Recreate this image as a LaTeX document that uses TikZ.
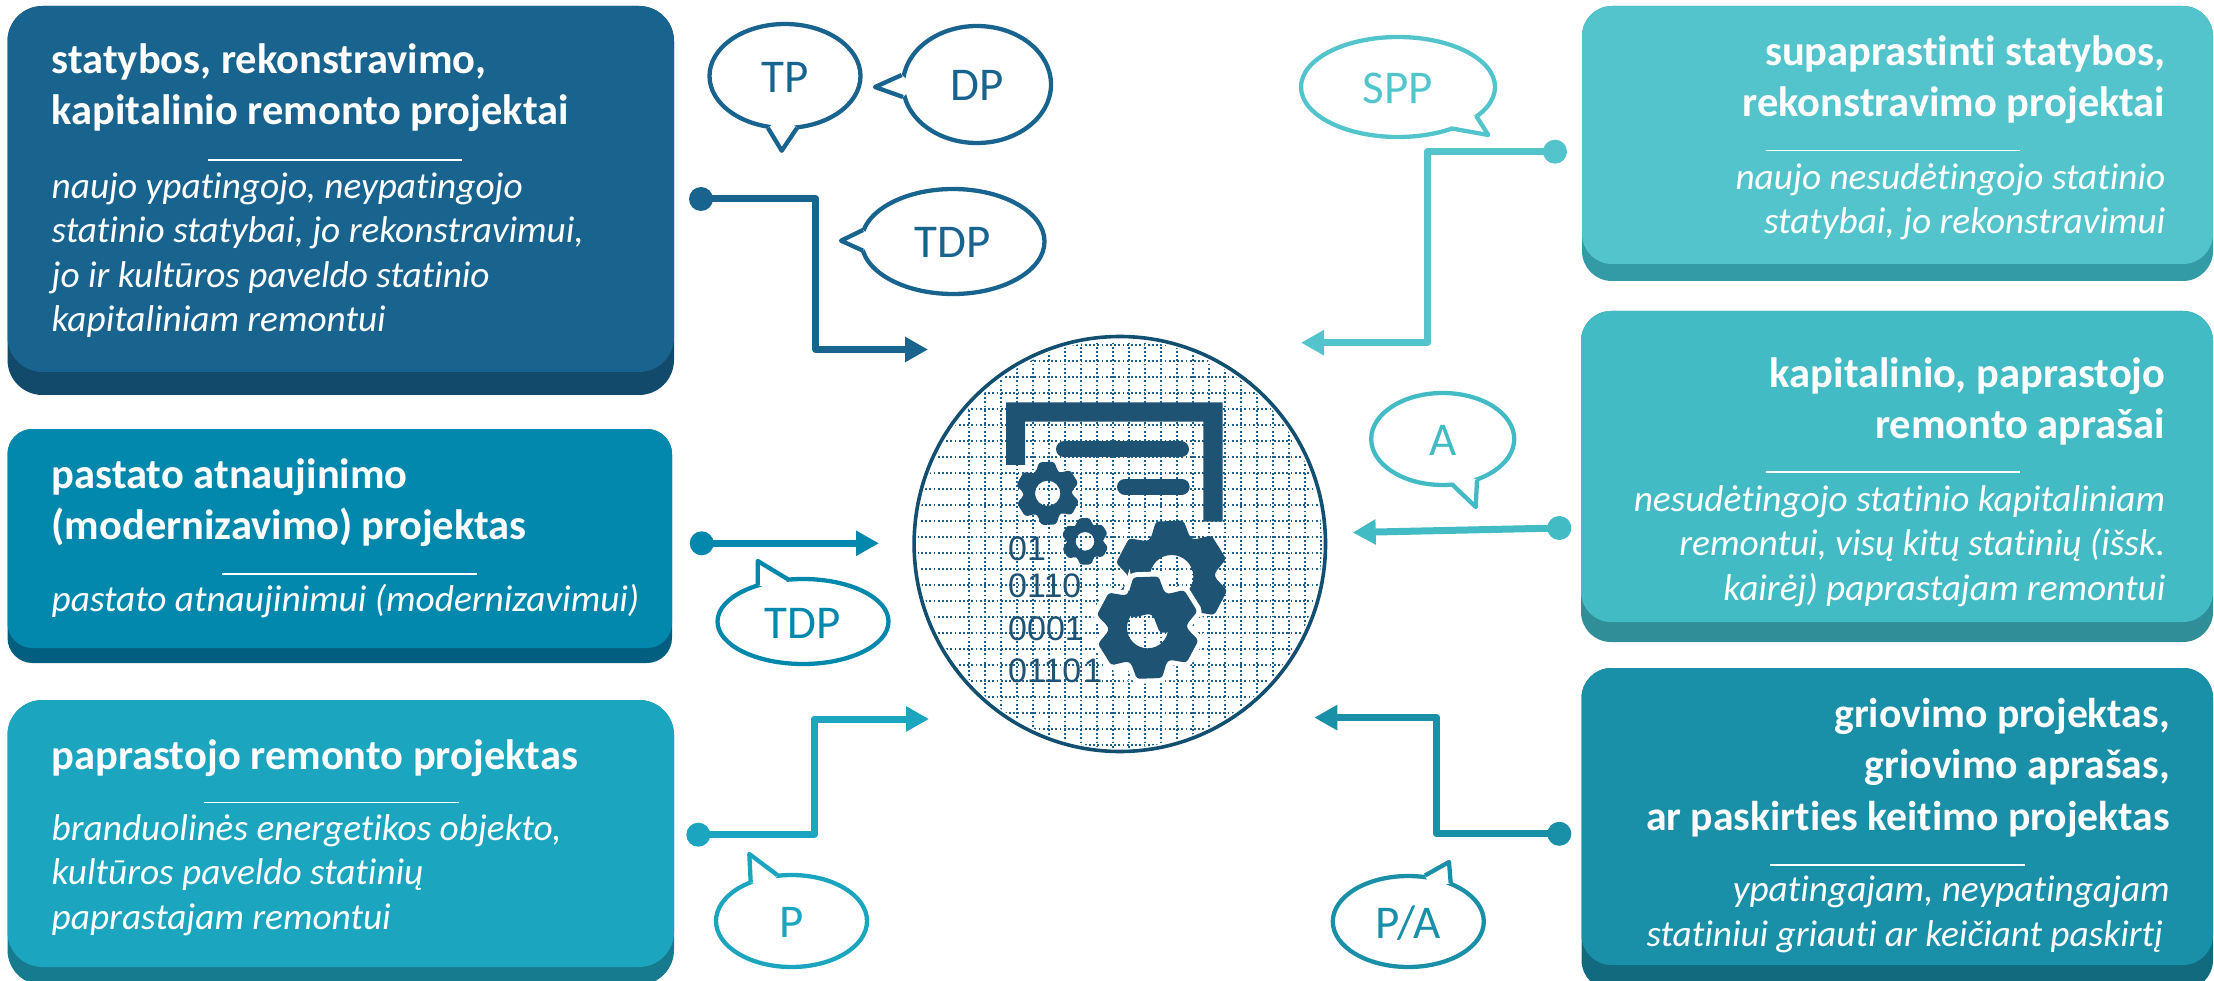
\documentclass[tikz,border=0pt]{standalone}
\usepackage{fontspec}
\setmainfont{Carlito}[Ligatures=NoCommon]
\newfontfamily\bitsfont{Liberation Sans}
\usetikzlibrary{arrows.meta,calc,shapes.geometric}
\definecolor{cardA}{HTML}{19648F} \definecolor{cardAd}{HTML}{124A6B}
\definecolor{cardB}{HTML}{0388AD} \definecolor{cardBd}{HTML}{035F80}
\definecolor{cardC}{HTML}{1CA5BF} \definecolor{cardCd}{HTML}{177B8F}
\definecolor{cardD}{HTML}{54C4CC} \definecolor{cardDd}{HTML}{329BA6}
\definecolor{cardE}{HTML}{42BBC5} \definecolor{cardEd}{HTML}{2F8E97}
\definecolor{cardF}{HTML}{198FA8} \definecolor{cardFd}{HTML}{126A7F}
\definecolor{iconblue}{HTML}{1F5373}
\definecolor{rimblue}{HTML}{134F70}
\definecolor{gridblue}{HTML}{1C5F88}
\tikzset{
  plate/.style      = {inner sep=0pt, outer sep=0pt},
  cardhead/.style   = {inner sep=0pt, text=white, font=\fontsize{42.5pt}{51pt}\selectfont\bfseries},
  cardbody/.style   = {inner sep=0pt, text=white, font=\fontsize{37.3pt}{44.5pt}\selectfont\itshape},
  cardleft/.style   = {anchor=base west, align=left},
  cardright/.style  = {anchor=base east, align=right},
  rulerline/.style  = {white, line width=1.1pt},
  % Bubbles
  bubbleshape/.style = {ellipse, inner sep=0pt, outer sep=0pt, line width=4.3pt,
      text height=33pt, text depth=0pt, font=\fontsize{47pt}{50pt}\selectfont},
  % Lines, arrows
  dotend/.style     = {circle, inner sep=0pt, outer sep=0pt, minimum size=24pt},
  linkline/.style   = {line width=7pt, line join=round, -{Triangle[length=23pt,width=24pt]}},
  gridline/.style   = {gridblue, line width=1.8pt, dash pattern=on 1.8pt off 2.4pt},
  bitsline/.style   = {inner sep=0pt, anchor=base west, text=iconblue, font=\fontsize{34pt}{34pt}\selectfont\bitsfont},
}
\begin{document}
\begin{tikzpicture}[x=1pt,y=-1pt]
\def\block(#1) <#2,#3,#4,#5>[#6,#7] at (#8);{
	\node[plate, fill=#7, minimum width=#2pt, minimum height=#3pt, rounded corners=#5pt] (#1_back) at (#8) {};
	\node[plate, fill=#6, minimum width=#2pt, minimum height=#3pt-#4pt, rounded corners=#5pt] (#1) at ($(#8)+(0,-0.5*#4)$) {};
}
\def\bubble(#1) <#2,#3>[#4,#5] at (#6) tail (#7)(#8)(#9);{
	\node[bubbleshape, draw=#4, text=#4, minimum width=#2pt, minimum height=#3pt] (#1) at (#6) {#5};
	\fill[white] (#7) -- (#8) -- (#9) -- ($($(#7)!.5!(#9)$)!12pt!(#1.center)$) -- cycle;
	\draw[#4, line width=4.3pt, line join=round] (#7) -- (#8) -- (#9);
}
\def\gear(#1)<#2,#3,#4>{
	\fill[iconblue, even odd rule, shift={(#1)}, rounded corners=3pt] (-119:#3)
		\foreach \t in {-92,-32,28,88,148,208} { -- (\t-27:#3) -- (\t-14:#2) -- (\t+14:#2) -- (\t+27:#3) } -- cycle
		(0,0) circle[radius=#4];
}
\clip (0,0) rectangle (2214,981);
\useasboundingbox (0,0) rectangle (2214,981);

\block (statyba) <666.5,389,23,35>[cardA,cardAd] at (340.75,200.5);
\block (pastatas) <664.5,234,15,25>[cardB,cardBd] at (339.75,546);
\block (remontas) <666.5,285,18,35>[cardC,cardCd] at (340.75,842.5);
\block (supaprastinti) <631,275,17,30>[cardD,cardDd] at (1897.5,143.5);
\block (aprasai) <632,331,20,30>[cardE,cardEd] at (1897,476.5);
\block (griovimas) <631.5,322,25,30>[cardF,cardFd] at (1897.25,829);

%---------------------------------------------
\node[cardhead, cardleft] (statyba_head) at (51.5,125) {statybos, rekonstravimo,\\kapitalinio remonto projektai};
\draw[rulerline] (208,160) -- (462,160);
\node[cardbody, cardleft] (statyba_body) at (51.5,332) {naujo ypatingojo, neypatingojo\\statinio statybai, jo rekonstravimui,\\jo ir kultūros paveldo statinio\\kapitaliniam remontui};

\node[cardhead, cardleft] (pastatas_head) at (51.5,539) {pastato atnaujinimo\\(modernizavimo) projektas};
\draw[rulerline] (221.5,574) -- (476.5,574);
\node[cardbody, cardleft] (pastatas_body) at (51.5,611) {pastato atnaujinimui (modernizavimui)};

\node[cardhead, cardleft] (remontas_head) at (51.5,769) {paprastojo remonto projektas};
\draw[rulerline] (204,802.5) -- (459,802.5);
\node[cardbody, cardleft] (remontas_body) at (51.5,929) {branduolinės energetikos objekto,\\kultūros paveldo statinių\\paprastajam remontui};

\node[cardhead, cardright] (supaprastinti_head) at (2165.5,117) {supaprastinti statybos,\\rekonstravimo projektai};
\draw[rulerline] (1765.5,150.6) -- (2020,150.6);
\node[cardbody, cardright] (supaprastinti_body) at (2165.5,233.6) {naujo nesudėtingojo statinio\\statybai, jo rekonstravimui};

\node[cardhead, cardright] (aprasai_head) at (2165.5,438.6) {kapitalinio, paprastojo\\remonto aprašai};
\draw[rulerline] (1765.5,472) -- (2020,472);
\node[cardbody, cardright] (aprasai_body) at (2165.5,600) {nesudėtingojo statinio kapitaliniam\\remontui, visų kitų statinių (išsk.\\kairėj) paprastajam remontui};

\node[cardhead, cardright, font=\fontsize{41.7pt}{51.5pt}\selectfont\bfseries] (griovimas_head) at (2170,830) {griovimo projektas,\\griovimo aprašas,\\ar paskirties keitimo projektas};
\draw[rulerline] (1770,865) -- (2024.5,865);
\node[cardbody, cardright] (griovimas_body) at (2170,946) {ypatingajam, neypatingajam\\statiniui griauti ar keičiant paskirtį\hspace*{7pt}};

%---------------------------------------------
\bubble (tp) <151,104>[cardA,TP] at (785,76) tail (768,128)(781.7,150.7)(797,128);
\bubble (dp) <148,117>[cardA,DP] at (977,84.5) tail (901.7,75)(875,87)(903,97);
\bubble (tdp) <183,105>[cardA,TDP] at (953,241.5) tail (863,230)(841,240.7)(863,250.7);
\bubble (tdpb) <171,85>[cardB,TDP] at (803,621.5) tail (757.7,585)(757.7,561)(788,579.3);
\bubble (p) <151,92>[cardC,P] at (791.5,921) tail (750.7,882.7)(749.3,854)(777.3,875);
\bubble (spp) <194,100>[cardD,SPP] at (1398,87) tail (1476,115.7)(1488.3,135)(1450.7,128.3);
\bubble (a) <143,92>[cardE,A] at (1442.7,439) tail (1451.7,484)(1475.7,507)(1477,480);
\bubble (pa) <151,91>[cardF,P/A] at (1408.3,921.5) tail (1425,875.5)(1449,862)(1450.7,883);

%---------------------------------------------
\node[dotend, fill=cardA] (statyba_dot) at (701,199) {};
\coordinate (statyba_bend) at (815.7,349.5);
\coordinate (statyba_end) at (928,349.5);
\draw[linkline, cardA] (statyba_dot.center) -| (statyba_bend) -- (statyba_end);

\node[dotend, fill=cardB] (pastatas_dot) at (701.7,543.3) {};
\coordinate (pastatas_end) at (879,543.3);
\draw[linkline, cardB] (pastatas_dot.center) -- (pastatas_end);

\node[dotend, fill=cardC] (remontas_dot) at (698.3,834.7) {};
\coordinate (remontas_bend) at (814,719);
\coordinate (remontas_end) at (929,719);
\draw[linkline, cardC] (remontas_dot.center) -| (remontas_bend) -- (remontas_end);

\node[dotend, fill=cardD] (supaprastinti_dot) at (1555,151.7) {};
\coordinate (supaprastinti_bend) at (1427.7,342.7);
\coordinate (supaprastinti_end) at (1301,342.7);
\draw[linkline, cardD] (supaprastinti_dot.center) -| (supaprastinti_bend) -- (supaprastinti_end);

\node[dotend, fill=cardE] (aprasai_dot) at (1559.3,528) {};
\coordinate (aprasai_end) at (1352.7,532.5);
\draw[linkline, cardE] (aprasai_dot.center) -- (aprasai_end);

\node[dotend, fill=cardF] (griovimas_dot) at (1559.3,833.8) {};
\coordinate (griovimas_bend) at (1436.7,717.6);
\coordinate (griovimas_end) at (1314.3,717.6);
\draw[linkline, cardF] (griovimas_dot.center) -| (griovimas_bend) -- (griovimas_end);

%---------------------------------------------
\begin{scope}
	\clip (1119.8,544) ellipse[x radius=202, y radius=204];
	\foreach \n in {-2,...,24} {
		\draw[gridline] (900,360.7+16*\n) -- (1340,360.7+16*\n);
		\draw[gridline] (1049+16*\n-48,330) -- (1049+16*\n-48,760);
	}
\end{scope}
\draw[rimblue, line width=3.6pt] (1119.8,544) ellipse[x radius=205.7, y radius=207.5];

\begin{scope}[shift={(880,350)}, scale=1/3]
	\fill[iconblue] (378,157) -- (1028,157) -- (1028,515) -- (970,515) -- (970,215)
		-- (435,215) -- (435,345) -- (378,345) -- cycle;
	\draw[iconblue, line width=16pt, line cap=round] (552,298) -- (903,298);
	\draw[iconblue, line width=16pt, line cap=round] (735,410) -- (905,410);
	\gear(503,430)<97,72,38>
	\gear(615,574)<72,54,28>
	\gear(875,680)<172,130,65>
	\draw[white, line width=10pt, rounded corners=3pt, shift={(803,833)}] (-119:118)
		\foreach \t in {-92,-32,28,88,148,208} { -- (\t-27:118) -- (\t-14:157) -- (\t+14:157) -- (\t+27:118) } -- cycle;
	\gear(803,833)<157,118,62>
\end{scope}
\node[bitsline] (bits_a) at (1008,560) {01};
\node[bitsline] (bits_b) at (1008,597) {0110};
\node[bitsline] (bits_c) at (1008,640.7) {0001};
\node[bitsline] (bits_d) at (1008,682) {0110\kern2pt 1};

\end{tikzpicture}
\end{document}
